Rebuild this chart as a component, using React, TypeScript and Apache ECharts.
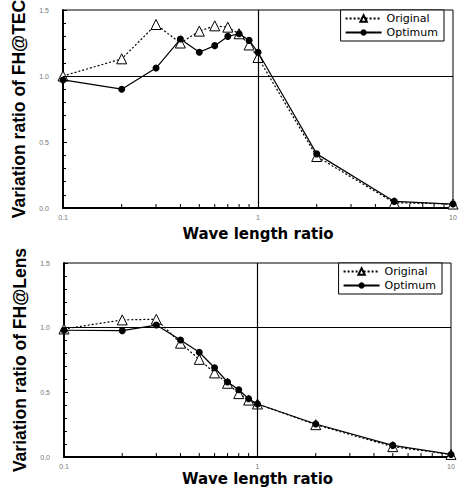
import React, { useEffect, useRef } from "react";
import * as echarts from "echarts";

const xValues = [0.1, 0.2, 0.3, 0.4, 0.5, 0.6, 0.7, 0.8, 0.9, 1, 2, 5, 10];
const tecOriginal = [1.0, 1.13, 1.39, 1.25, 1.34, 1.38, 1.37, 1.32, 1.235, 1.14, 0.39, 0.04, 0.03];
const tecOptimum = [0.97, 0.9, 1.06, 1.28, 1.18, 1.23, 1.3, 1.32, 1.27, 1.18, 0.41, 0.05, 0.03];
const lensOriginal = [0.99, 1.06, 1.065, 0.88, 0.755, 0.65, 0.57, 0.49, 0.44, 0.41, 0.25, 0.08, 0.02];
const lensOptimum = [0.98, 0.977, 1.02, 0.905, 0.81, 0.69, 0.58, 0.52, 0.45, 0.41, 0.255, 0.09, 0.02];
const minorX = [0.2, 0.3, 0.4, 0.5, 0.6, 0.7, 0.8, 0.9, 2, 3, 4, 5, 6, 7, 8, 9];
const yTitles = ["Variation ratio of FH@TEC", "Variation ratio of FH@Lens"];
const xTitle = "Wave length ratio";
const seriesNames = ["Original", "Optimum"];

const FONT = "Liberation Sans";
const WIDE = "DejaVu Sans";

function zip(xs: number[], ys: number[]) {
  return xs.map((x, i) => [x, ys[i]]);
}

export default function App() {
  const ref = useRef<HTMLDivElement>(null);
  useEffect(() => {
    if (!ref.current) return;
    const chart = echarts.init(ref.current, null, { renderer: "svg" });
    const grids = [
      { left: 63, top: 10, width: 390, height: 198 },
      { left: 64, top: 263, width: 387, height: 194 },
    ];
    const xNameGaps = [18, 14];
    const legendPos = [
      { top: 10, right: 15 },
      { top: 263, right: 17 },
    ];
    const datasets = [
      [tecOriginal, tecOptimum],
      [lensOriginal, lensOptimum],
    ];
    const xAxis: any[] = [];
    const yAxis: any[] = [];
    const series: any[] = [];
    const legend: any[] = [];
    grids.forEach((g, i) => {
      xAxis.push({
        type: "log",
        logBase: 10,
        gridIndex: i,
        min: 0.1,
        max: 10,
        axisLine: { lineStyle: { color: "#000", width: 2 } },
        axisTick: { show: false },
        axisLabel: {
          fontSize: 7,
          color: "#777",
          margin: 6,
          fontFamily: FONT,
          formatter: (v: number) => String(v),
        },
        splitLine: { show: false },
        name: xTitle,
        nameLocation: "middle",
        nameGap: xNameGaps[i],
        nameTextStyle: { fontWeight: "bold", fontSize: 15, color: "#000", fontFamily: WIDE },
      });
      yAxis.push({
        type: "value",
        gridIndex: i,
        min: 0,
        max: 1.5,
        interval: 0.5,
        axisLine: { show: true, lineStyle: { color: "#000", width: 2 } },
        axisTick: { show: true, inside: true, length: 4, lineStyle: { color: "#000" } },
        minorTick: { show: true, splitNumber: 5, length: 3, lineStyle: { color: "#000" } },
        axisLabel: {
          fontSize: 7,
          color: "#777",
          margin: 14,
          fontFamily: FONT,
          formatter: (v: number) => v.toFixed(1),
        },
        splitLine: { show: false },
        name: yTitles[i],
        nameLocation: "middle",
        nameGap: 35,
        nameTextStyle: { fontWeight: "bold", fontSize: 17.5, color: "#000", fontFamily: FONT },
      });
      const [orig, opt] = datasets[i];
      series.push({
        name: seriesNames[0],
        type: "line",
        xAxisIndex: i,
        yAxisIndex: i,
        data: zip(xValues, orig),
        symbol: "triangle",
        symbolSize: 10,
        itemStyle: { color: "#fff", borderColor: "#000", borderWidth: 1 },
        lineStyle: { color: "#000", type: [2, 2], width: 1.2 },
        z: 4,
        markLine: {
          silent: true,
          symbol: "none",
          label: { show: false },
          lineStyle: { color: "#000", type: "solid", width: 1.2 },
          data: [{ xAxis: 1 }, { yAxis: 1 }],
        },
      });
      series.push({
        name: seriesNames[1],
        type: "line",
        xAxisIndex: i,
        yAxisIndex: i,
        data: zip(xValues, opt),
        symbol: "circle",
        symbolSize: 7,
        itemStyle: { color: "#000" },
        lineStyle: { color: "#000", type: "solid", width: 1.2 },
        z: 5,
      });
      series.push({
        type: "custom",
        xAxisIndex: i,
        yAxisIndex: i,
        silent: true,
        data: minorX.map((x) => [x, 0]),
        encode: { x: 0, y: 1 },
        renderItem: (params: any, api: any) => {
          const p = api.coord([api.value(0), 0]);
          return {
            type: "line",
            shape: { x1: p[0], y1: p[1], x2: p[0], y2: p[1] - 4 },
            style: { stroke: "#000", lineWidth: 1 },
          };
        },
        z: 2,
      });
      legend.push({
        data: seriesNames,
        orient: "vertical",
        top: legendPos[i].top,
        right: legendPos[i].right,
        borderColor: "#000",
        borderWidth: 1,
        backgroundColor: "#fff",
        padding: [3, 6, 3, 4],
        itemGap: 3,
        itemWidth: 36,
        itemHeight: 8,
        selectedMode: false,
        textStyle: { fontSize: 11, color: "#000", fontFamily: WIDE },
      });
    });
    chart.setOption({
      animation: false,
      backgroundColor: "#fff",
      textStyle: { fontFamily: FONT },
      grid: grids.map((g) => ({
        ...g,
        show: true,
        borderColor: "#000",
        borderWidth: 1,
        backgroundColor: "transparent",
        containLabel: false,
        outerBoundsMode: "none",
      })),
      xAxis,
      yAxis,
      legend,
      series,
    });
    return () => chart.dispose();
  }, []);
  return (
    <div
      ref={ref}
      style={{ position: "absolute", left: 0, top: 0, width: 459, height: 492 }}
    />
  );
}
